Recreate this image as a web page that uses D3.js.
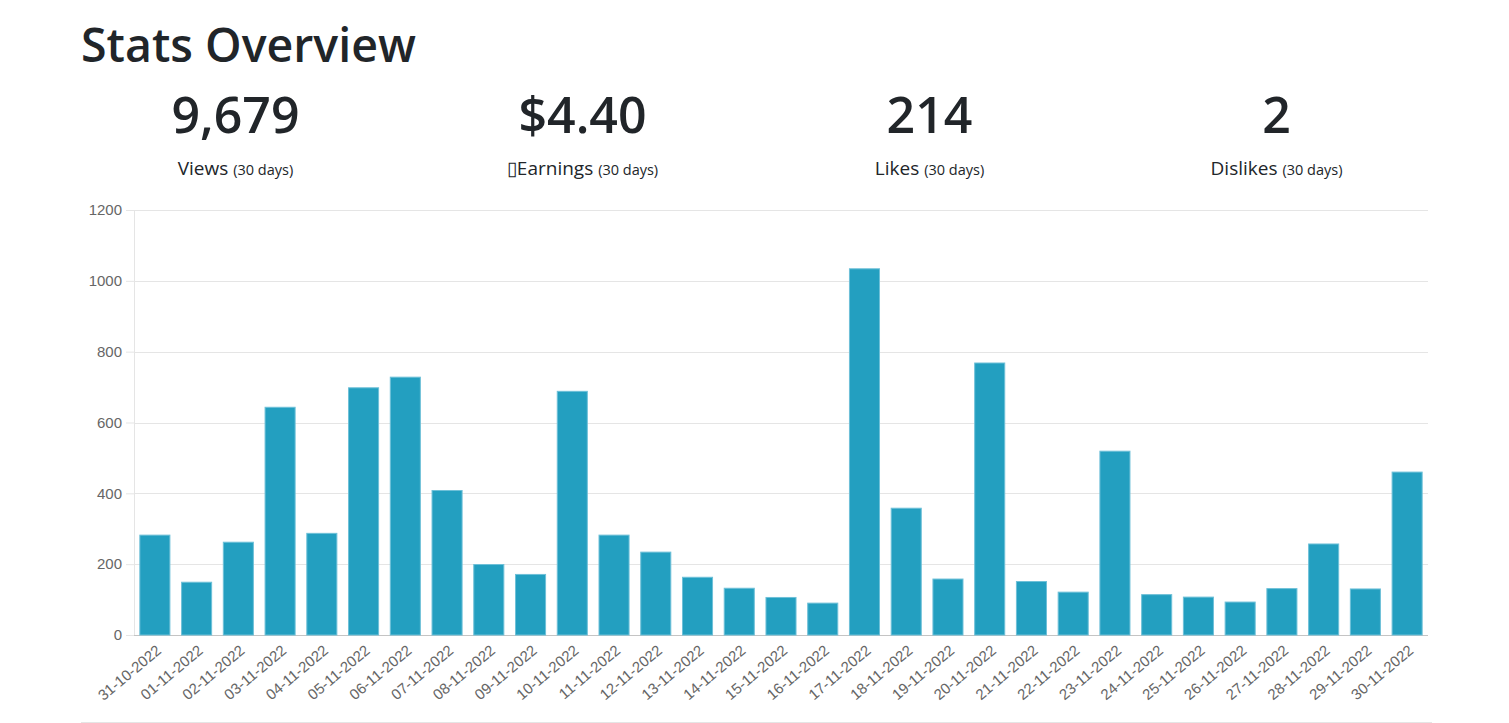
<!DOCTYPE html>
<html>
<head>
  <meta charset="utf-8">
  <title>Stats Overview</title>
  <script src="https://d3js.org/d3.v7.min.js"></script>
  <style>
    body { margin: 0; background: #fff; }
    .head { font-family: "Open Sans", "Noto Sans", sans-serif; fill: #212529; }
    .axis text { font-family: "Liberation Sans", Arial, sans-serif; fill: #666; font-size: 15px; }
  </style>
</head>
<body>
  <svg id="chart" width="1509" height="723"></svg>

  <script>
    // Data
    var dates = [
      "31-10-2022", "01-11-2022", "02-11-2022", "03-11-2022", "04-11-2022", "05-11-2022",
      "06-11-2022", "07-11-2022", "08-11-2022", "09-11-2022", "10-11-2022", "11-11-2022",
      "12-11-2022", "13-11-2022", "14-11-2022", "15-11-2022", "16-11-2022", "17-11-2022",
      "18-11-2022", "19-11-2022", "20-11-2022", "21-11-2022", "22-11-2022", "23-11-2022",
      "24-11-2022", "25-11-2022", "26-11-2022", "27-11-2022", "28-11-2022", "29-11-2022",
      "30-11-2022"
    ];
    var views = [
      282, 149, 262, 643, 287, 698, 728, 408, 199, 171, 688, 282,
      234, 163, 132, 106, 90, 1034, 358, 158, 768, 151, 121, 519,
      114, 107, 93, 131, 257, 130, 460
    ];
    var yTicks = [0, 200, 400, 600, 800, 1000, 1200];

    var statValues = ["9,679", "$4.40", "214", "2"];
    var statLabels = ["Views", "\u25AFEarnings", "Likes", "Dislikes"];
    var statPeriod = "(30 days)";

    var svg = d3.select("#chart");

    // Title
    svg.append("text")
      .attr("class", "head")
      .attr("x", 81)
      .attr("y", 62)
      .style("font-size", "46.5px")
      .style("font-weight", 600)
      .text("Stats Overview");

    // Stat columns
    var colX = d3.scaleBand()
      .domain(d3.range(statValues.length))
      .range([62, 1450]);

    var stats = svg.append("g").selectAll("g")
      .data(statValues)
      .enter().append("g")
      .attr("transform", function(d, i) { return "translate(" + (colX(i) + colX.bandwidth() / 2) + ",0)"; });

    stats.append("text")
      .attr("class", "head")
      .attr("y", 133)
      .attr("text-anchor", "middle")
      .style("font-size", "50px")
      .style("font-weight", 600)
      .text(function(d) { return d; });

    var lab = stats.append("text")
      .attr("class", "head")
      .attr("y", 175)
      .attr("text-anchor", "middle")
      .style("font-size", "19px");
    lab.append("tspan").text(function(d, i) { return statLabels[i] + " "; });
    lab.append("tspan").style("font-size", "14.5px").text(statPeriod);

    // Chart area
    var plotLeft = 134, plotRight = 1428, plotTop = 210, plotBottom = 635;

    var x = d3.scaleBand()
      .domain(dates)
      .range([plotLeft, plotRight])
      .paddingInner(0.28)
      .paddingOuter(0.14);

    var y = d3.scaleLinear()
      .domain([0, 1200])
      .range([plotBottom, plotTop]);

    // y axis with ticks
    var yAxis = d3.axisLeft(y)
      .tickValues(yTicks)
      .tickFormat(d3.format("d"))
      .tickSize(8)
      .tickPadding(4);

    var gy = svg.append("g")
      .attr("class", "axis")
      .attr("transform", "translate(" + plotLeft + ",0)")
      .call(yAxis);
    gy.select(".domain").remove();
    gy.selectAll(".tick line").attr("stroke", "#e5e5e5");

    // grid
    svg.append("g").selectAll("line")
      .data(yTicks)
      .enter().append("line")
      .attr("x1", plotLeft)
      .attr("x2", plotRight)
      .attr("y1", function(d) { return Math.round(y(d)) + 0.5; })
      .attr("y2", function(d) { return Math.round(y(d)) + 0.5; })
      .attr("stroke", function(d) { return d === 0 ? "#c4c4c4" : "#e5e5e5"; });

    svg.append("line")
      .attr("x1", plotLeft + 0.5).attr("x2", plotLeft + 0.5)
      .attr("y1", plotTop).attr("y2", plotBottom)
      .attr("stroke", "#e5e5e5");

    // bars
    svg.append("g").selectAll("rect")
      .data(views)
      .enter().append("rect")
      .attr("x", function(d, i) { return x(dates[i]); })
      .attr("y", function(d) { return y(d); })
      .attr("width", x.bandwidth())
      .attr("height", function(d) { return y(0) - y(d); })
      .attr("fill", "#239fc0")
      .attr("stroke", "#6ec0d8")
      .attr("stroke-width", 1);

    // x labels
    var xAxis = d3.axisBottom(x).tickSize(0).tickPadding(0);
    var gx = svg.append("g")
      .attr("class", "axis")
      .attr("transform", "translate(0," + plotBottom + ")")
      .call(xAxis);
    gx.select(".domain").remove();
    gx.selectAll(".tick text")
      .attr("text-anchor", "end")
      .attr("y", 0)
      .attr("dy", "0.35em")
      .attr("transform", "translate(4,13) rotate(-40)");

    // bottom rule
    svg.append("line")
      .attr("x1", 81).attr("x2", 1432)
      .attr("y1", 722.5).attr("y2", 722.5)
      .attr("stroke", "#e5e5e5");
  </script>
</body>
</html>
